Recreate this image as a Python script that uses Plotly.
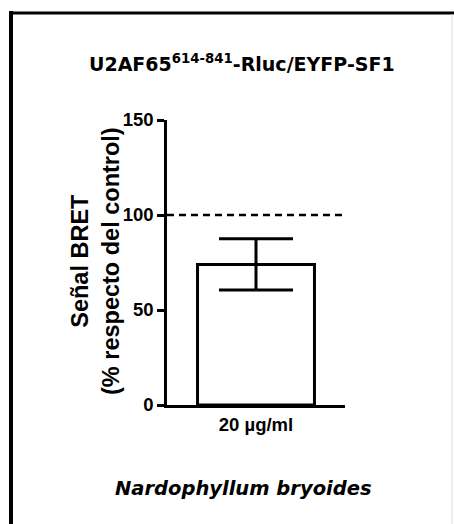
import plotly.graph_objects as go

# Data
categories = ["20 µg/ml"]
bret_signal = [74]          # % of control
bret_error = [13.5]         # SEM
control_level = 100
y_ticks = [0, 50, 100, 150]

W, H = 454, 524
L, R, T, B = 167, 109, 120, 119
PW, PH = W - L - R, H - T - B


def px_x(px):
    return (px - L) / PW


def px_y(py):
    return (H - B - py) / PH


fig = go.Figure()
fig.add_trace(go.Bar(
    x=categories,
    y=bret_signal,
    width=0.657,
    marker=dict(color="white", line=dict(color="black", width=3)),
    error_y=dict(type="data", array=bret_error, visible=True,
                 color="black", thickness=3, width=37),
    showlegend=False,
))

fig.add_shape(type="line", xref="paper", yref="y", x0=0, x1=1,
              y0=control_level, y1=control_level,
              line=dict(color="black", width=2.5, dash="7px,5px"))

# Frame around the panel
fig.add_shape(type="line", xref="paper", yref="paper",
              x0=px_x(11), x1=px_x(11), y0=px_y(11), y1=px_y(530),
              line=dict(color="black", width=4))
fig.add_shape(type="line", xref="paper", yref="paper",
              x0=px_x(9), x1=px_x(460), y0=px_y(13), y1=px_y(13),
              line=dict(color="black", width=3))
fig.add_shape(type="line", xref="paper", yref="paper",
              x0=px_x(452), x1=px_x(452), y0=px_y(14), y1=px_y(530),
              line=dict(color="#dddddd", width=1))

fig.add_annotation(
    text="U2AF65<sup>614-841</sup>-Rluc/EYFP-SF1",
    xref="paper", yref="paper", x=px_x(242), y=px_y(63),
    xanchor="center", yanchor="middle", showarrow=False,
    font=dict(family="DejaVu Sans", size=19, color="black", weight="bold"),
)
fig.add_annotation(
    text="Señal BRET<br>(% respecto del control)",
    xref="paper", yref="paper", x=px_x(95), y=px_y(261),
    xanchor="center", yanchor="middle", showarrow=False, textangle=-90,
    font=dict(family="Liberation Sans, Arial", size=23.5, color="black", weight="bold"),
)
fig.add_annotation(
    text="<i>Nardophyllum bryoides</i>",
    xref="paper", yref="paper", x=px_x(243), y=px_y(488),
    xanchor="center", yanchor="middle", showarrow=False,
    font=dict(family="DejaVu Sans", size=19.5, color="black", weight="bold"),
)

fig.update_xaxes(
    range=[-0.5, 0.5], showline=True, linecolor="black", linewidth=2.5,
    ticks="outside", ticklen=1, tickcolor="rgba(0,0,0,0)",
    tickfont=dict(family="Liberation Sans, Arial", size=18.5,
                  color="black", weight="bold"),
    showgrid=False, zeroline=False, fixedrange=True,
)
fig.update_yaxes(
    range=[0, 150], tickvals=y_ticks, showline=True, linecolor="black",
    linewidth=2.5, ticks="outside", ticklen=7, tickwidth=2.5, tickcolor="black",
    tickfont=dict(family="Liberation Sans, Arial", size=18.5,
                  color="black", weight="bold"),
    showgrid=False, zeroline=False, fixedrange=True,
)
fig.update_layout(
    width=W, height=H,
    margin=dict(l=L, r=R, t=T, b=B, pad=0),
    paper_bgcolor="white", plot_bgcolor="white",
    showlegend=False,
)

fig.write_html("out.html")
